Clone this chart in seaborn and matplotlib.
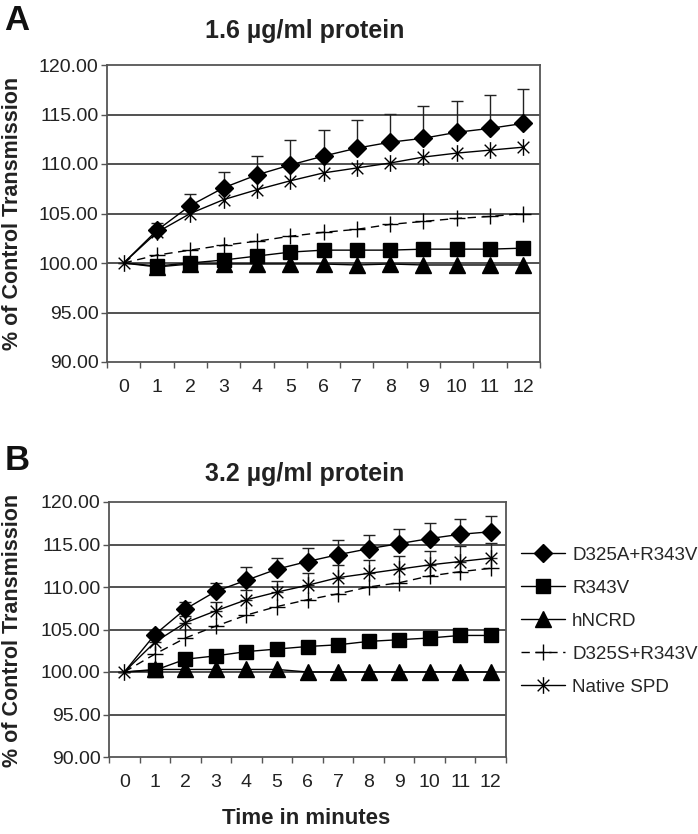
import matplotlib
matplotlib.use("Agg")
import matplotlib.pyplot as plt
from matplotlib.path import Path
from matplotlib.ticker import FixedLocator
import seaborn as sns

minutes = list(range(13))

# Panel A - 1.6 ug/ml protein
a_d325a = [100, 103.3, 105.8, 107.6, 108.9, 109.9, 110.8, 111.6, 112.2, 112.6, 113.2, 113.6, 114.1]
a_d325a_err = [0, 0.75, 1.2, 1.6, 1.9, 2.5, 2.6, 2.8, 2.9, 3.3, 3.2, 3.4, 3.5]
a_r343v = [100, 99.7, 100.0, 100.3, 100.7, 101.1, 101.3, 101.3, 101.3, 101.4, 101.4, 101.4, 101.5]
a_hncrd = [100, 99.6, 99.9, 99.9, 99.9, 99.9, 99.9, 99.8, 99.9, 99.8, 99.8, 99.8, 99.8]
a_d325s = [100, 100.8, 101.3, 101.8, 102.2, 102.7, 103.1, 103.4, 103.9, 104.2, 104.5, 104.7, 105.0]
a_native = [100, 103.1, 105.0, 106.4, 107.4, 108.3, 109.1, 109.6, 110.1, 110.7, 111.1, 111.4, 111.7]

# Panel B - 3.2 ug/ml protein
b_d325a = [100, 104.4, 107.4, 109.5, 110.8, 112.1, 113.0, 113.8, 114.5, 115.1, 115.7, 116.2, 116.5]
b_d325a_err = [0, 0.6, 0.8, 1.0, 1.5, 1.3, 1.6, 1.7, 1.6, 1.7, 1.8, 1.8, 1.9]
b_r343v = [100, 100.2, 101.5, 101.9, 102.4, 102.7, 103.0, 103.2, 103.6, 103.8, 104.0, 104.3, 104.3]
b_hncrd = [100, 100.3, 100.3, 100.3, 100.3, 100.3, 100.0, 100.0, 100.0, 100.0, 100.0, 100.0, 100.0]
b_d325s = [100, 102.1, 104.0, 105.4, 106.7, 107.7, 108.5, 109.2, 110.0, 110.5, 111.3, 111.8, 112.2]
b_native = [100, 103.5, 105.8, 107.2, 108.5, 109.4, 110.2, 111.1, 111.6, 112.1, 112.6, 113.0, 113.4]
b_native_err = [0, 0.8, 0.8, 1.0, 1.2, 1.3, 1.5, 1.5, 1.6, 1.6, 1.6, 1.8, 1.8]

labels = ["D325A+R343V", "R343V", "hNCRD", "D325S+R343V", "Native SPD"]
y_ticks = [90, 95, 100, 105, 110, 115, 120]

sns.set_style("white")
plt.rcParams["font.family"] = ["Liberation Sans", "DejaVu Sans"]

# excel style star: an X with a vertical bar
star = Path([(-0.7, -0.7), (0.7, 0.7), (-0.7, 0.7), (0.7, -0.7), (0, -1), (0, 1)],
            [Path.MOVETO, Path.LINETO, Path.MOVETO, Path.LINETO, Path.MOVETO, Path.LINETO])

# only the native protein shows a marker at time 0
after_zero = list(range(1, 13))
styles = [
    dict(marker="D", markersize=9, linestyle="-", markevery=after_zero),
    dict(marker="s", markersize=10, linestyle="-", markevery=after_zero),
    dict(marker="^", markersize=11, linestyle="-", markevery=after_zero),
    dict(marker="+", markersize=11, linestyle=(0, (6, 4)), markevery=after_zero),
    dict(marker=star, markersize=12, linestyle="-"),
]

fig = plt.figure(figsize=(6.98, 8.34), dpi=100)
ax1 = fig.add_axes([107 / 698, 1 - 362 / 834, 433 / 698, 297 / 834])
ax2 = fig.add_axes([109 / 698, 1 - 757 / 834, 397 / 698, 255 / 834])


def draw_panel(ax, series, errs):
    for ys, lab, st in zip(series, labels, styles):
        sns.lineplot(x=minutes, y=ys, ax=ax, color="black", linewidth=1.0,
                     markeredgecolor="black", markerfacecolor="black",
                     markeredgewidth=1.0, label=lab, zorder=3, **st)
    for ys, err in errs:
        ax.errorbar(minutes, ys, yerr=[[0] * len(err), err], fmt="none",
                    ecolor="#222222", elinewidth=1.0, capsize=4, capthick=1.0, zorder=2)
    ax.set_xlim(-0.5, 12.5)
    ax.set_ylim(90, 120)
    ax.set_yticks(y_ticks)
    ax.set_yticklabels([f"{v:.2f}" for v in y_ticks], fontsize=14, color="#222222")
    ax.set_xticks(minutes)
    ax.set_xticklabels([str(m) for m in minutes], fontsize=14, color="#222222")
    ax.xaxis.set_minor_locator(FixedLocator([m - 0.5 for m in range(14)]))
    ax.tick_params(axis="x", which="major", length=0, pad=12)
    ax.tick_params(axis="x", which="minor", length=4, width=1, color="#555555", direction="out", bottom=True)
    ax.tick_params(axis="y", length=4, width=1, color="#555555", direction="out", left=True, pad=2)
    for v in y_ticks[1:-1]:
        ax.axhline(v, color="#222222", linewidth=1.1, zorder=1)
    for sp in ax.spines.values():
        sp.set_color("#555555")
        sp.set_linewidth(1.3)
    ax.set_xlabel("")
    ax.set_ylabel("")


draw_panel(ax1, [a_d325a, a_r343v, a_hncrd, a_d325s, a_native], [(a_d325a, a_d325a_err)])
draw_panel(ax2, [b_d325a, b_r343v, b_hncrd, b_d325s, b_native],
           [(b_d325a, b_d325a_err), (b_native, b_native_err)])

ax1.get_legend().remove()
ax2.legend(loc="upper left", bbox_to_anchor=(1.02, 0.855), frameon=False, fontsize=13.5,
           handlelength=2.3, handletextpad=0.4, labelspacing=0.85, borderaxespad=0)

fig.text(305 / 698, 1 - 31 / 834, "1.6 µg/ml protein", ha="center", va="center",
         fontsize=18, fontweight="bold", color="#222222")
fig.text(305 / 698, 1 - 474 / 834, "3.2 µg/ml protein", ha="center", va="center",
         fontsize=18, fontweight="bold", color="#222222")
fig.text(17 / 698, 1 - 21 / 834, "A", ha="center", va="center", fontsize=25,
         fontweight="bold", color="#111111")
fig.text(17 / 698, 1 - 461 / 834, "B", ha="center", va="center", fontsize=25,
         fontweight="bold", color="#111111")
fig.text(13 / 698, 1 - 213 / 834, "% of Control Transmission", rotation=90, ha="center",
         va="center", fontsize=15.5, fontweight="bold", color="#222222")
fig.text(13 / 698, 1 - 630 / 834, "% of Control Transmission", rotation=90, ha="center",
         va="center", fontsize=15.5, fontweight="bold", color="#222222")
fig.text(306 / 698, 1 - 818 / 834, "Time in minutes", ha="center", va="center",
         fontsize=16, fontweight="bold", color="#222222")

fig.savefig("out.png", dpi=100)
